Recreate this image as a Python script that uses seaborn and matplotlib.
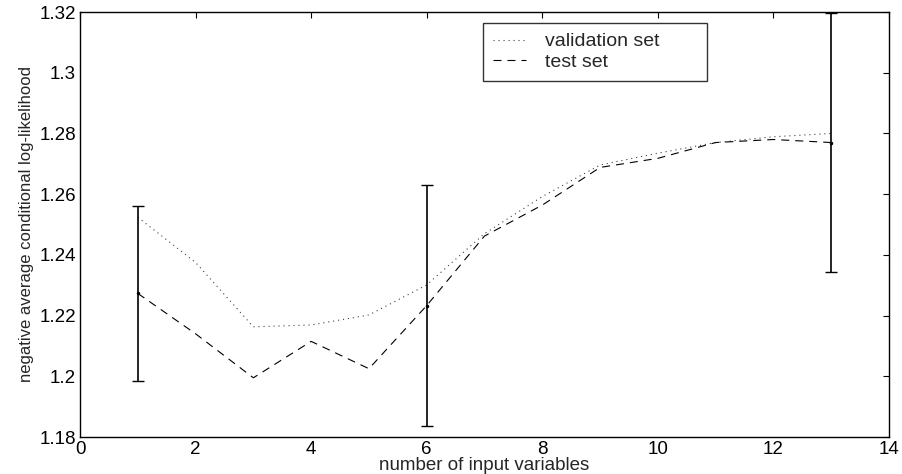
import numpy as np
import pandas as pd
import matplotlib
matplotlib.use("Agg")
import matplotlib.pyplot as plt
import seaborn as sns
from matplotlib.ticker import FuncFormatter

# ---- data ----
n_vars = [1, 2, 3, 4, 5, 6, 7, 8, 9, 10, 11, 12, 13]
validation = [1.2524, 1.2375, 1.2163, 1.2169, 1.2202, 1.2301, 1.2470,
              1.2592, 1.2696, 1.2735, 1.2770, 1.2789, 1.2800]
test = [1.2273, 1.2140, 1.1995, 1.2115, 1.2025, 1.2233, 1.2462,
        1.2564, 1.2688, 1.2718, 1.2770, 1.2780, 1.2770]
err_x = [1, 6, 13]
err_center = [1.2273, 1.2233, 1.2770]
err_half = [0.0288, 0.0397, 0.0426]
x_ticks = [0, 2, 4, 6, 8, 10, 12, 14]
y_ticks = [1.18, 1.20, 1.22, 1.24, 1.26, 1.28, 1.30, 1.32]

sns.set_style("white")
plt.rcParams['font.family'] = ['Liberation Sans', 'DejaVu Sans']

fig = plt.figure(figsize=(9.02, 4.74), dpi=100)
ax = fig.add_axes([80/902, 37/474, 809/902, 425/474])

df = pd.DataFrame({
    "x": n_vars * 2,
    "y": validation + test,
    "set": ["validation set"] * len(n_vars) + ["test set"] * len(n_vars),
})

lw = 0.8
sns.lineplot(data=df[df["set"] == "validation set"], x="x", y="y", ax=ax,
             color="0.25", linewidth=lw, linestyle=(0, (1, 3.5)),
             label="validation set")
sns.lineplot(data=df[df["set"] == "test set"], x="x", y="y", ax=ax,
             color="black", linewidth=lw, linestyle=(0, (7.2, 5.4)),
             label="test set")

ax.errorbar(err_x, err_center, yerr=err_half, fmt='.', color='black',
            markersize=3, elinewidth=1.2, capsize=4, capthick=1.0,
            clip_on=False, zorder=3)

ax.set_xlim(0, 14)
ax.set_ylim(1.18, 1.32)
ax.set_xticks(x_ticks)
ax.set_yticks(y_ticks)
ax.yaxis.set_major_formatter(FuncFormatter(lambda v, p: f"{v:g}"))
ax.xaxis.set_major_formatter(FuncFormatter(lambda v, p: f"{v:g}"))

ax.tick_params(direction='in', length=4.5, width=0.8, top=True, right=True,
               labelsize=13.5, colors='black')
ax.tick_params(axis='y', pad=3)
ax.tick_params(axis='x', pad=3)
for s in ax.spines.values():
    s.set_visible(True)
    s.set_color('black')
    s.set_linewidth(1.0)

ax.set_xlabel("number of input variables", fontsize=13.5, labelpad=-1)
ax.set_ylabel("negative average conditional log-likelihood", fontsize=12, labelpad=4)

leg = ax.legend(loc='upper left', bbox_to_anchor=(0.498, 0.835, 0.277, 0.139),
                mode='expand', fancybox=False, frameon=True, fontsize=14,
                handlelength=1.7, handletextpad=1.0, borderpad=0.5,
                labelspacing=0.15, borderaxespad=0)
leg.get_frame().set_edgecolor('black')
leg.get_frame().set_linewidth(1.0)

fig.savefig("out.png", dpi=100, facecolor='white')
